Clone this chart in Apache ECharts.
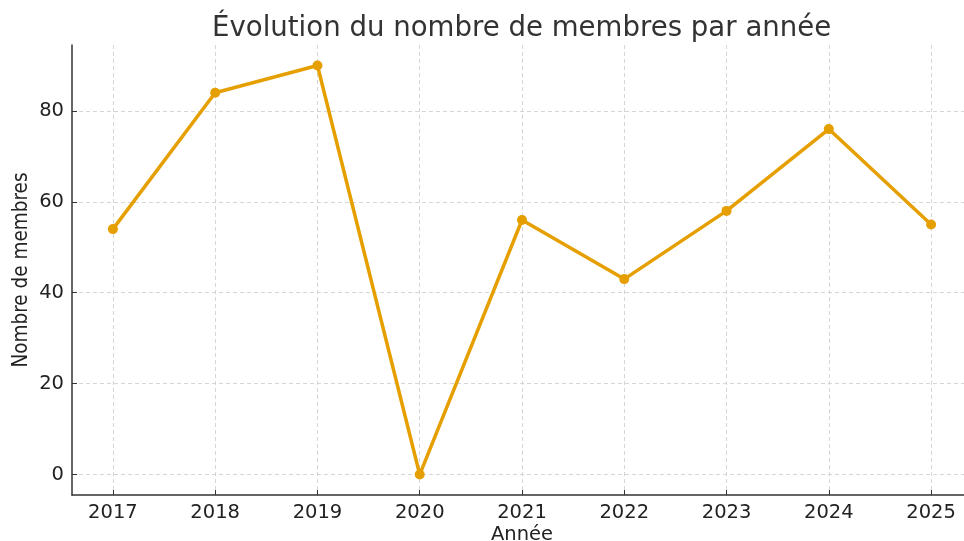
<!DOCTYPE html>
<html>
<head>
<meta charset="utf-8">
<script src="https://cdn.jsdelivr.net/npm/echarts@6/dist/echarts.min.js"></script>
<style>
html,body{margin:0;padding:0;background:#fff;overflow:hidden;}
#chart{width:964px;height:541px;}
</style>
</head>
<body>
<div id="chart"></div>
<script>
const years = [2017, 2018, 2019, 2020, 2021, 2022, 2023, 2024, 2025];
const members = [54, 84, 90, 0, 56, 43, 58, 76, 55];
const titleText = "Évolution du nombre de membres par année";
const xName = "Année";
const yName = "Nombre de membres";

const chart = echarts.init(document.getElementById('chart'), null, {renderer: 'canvas'});
const data = years.map((y, i) => [y, members[i]]);

chart.setOption({
  animation: false,
  backgroundColor: '#ffffff',
  title: {
    text: titleText,
    left: 207,
    top: 10,
    textStyle: {fontFamily: 'DejaVu Sans', fontSize: 27.6, fontWeight: 'normal', color: '#333333'}
  },
  grid: {left: 72, right: -8, top: 45, bottom: 46, containLabel: false, outerBoundsMode: 'none'},
  xAxis: {
    type: 'value',
    min: 2016.6,
    max: 2025.4,
    minInterval: 1,
    maxInterval: 1,
    name: xName,
    nameLocation: 'middle',
    nameGap: 30,
    nameMoveOverlap: false,
    nameTextStyle: {fontFamily: 'DejaVu Sans', fontSize: 19.5, color: '#222222'},
    axisLine: {show: true, onZero: false, lineStyle: {color: '#333333', width: 1.5}},
    axisTick: {show: true, inside: true, length: 5, lineStyle: {color: '#333333', width: 1}},
    axisLabel: {
      fontFamily: 'DejaVu Sans', fontSize: 19.5, color: '#222222', margin: 8,
      showMinLabel: false, showMaxLabel: false,
      formatter: v => String(v)
    },
    splitLine: {show: true, showMinLine: false, showMaxLine: false, lineStyle: {color: '#cccccc', type: [4, 3], width: 0.8}}
  },
  yAxis: {
    type: 'value',
    min: -4.5,
    max: 94.5,
    minInterval: 20,
    maxInterval: 20,
    name: yName,
    nameLocation: 'middle',
    nameRotate: 90,
    nameGap: 40,
    nameMoveOverlap: false,
    nameTextStyle: {fontFamily: 'DejaVu Sans Condensed', fontSize: 20.5, color: '#222222'},
    axisLine: {show: true, onZero: false, lineStyle: {color: '#333333', width: 1.5}},
    axisTick: {show: true, inside: true, length: 5, lineStyle: {color: '#333333', width: 1}},
    axisLabel: {
      fontFamily: 'DejaVu Sans', fontSize: 19.5, color: '#222222', margin: 8,
      showMinLabel: false, showMaxLabel: false
    },
    splitLine: {show: true, showMinLine: false, showMaxLine: false, lineStyle: {color: '#cccccc', type: [4, 3], width: 0.8}}
  },
  series: [{
    type: 'line',
    data: data,
    symbol: 'circle',
    symbolSize: 10,
    itemStyle: {color: '#E69F00'},
    lineStyle: {color: '#E69F00', width: 3.5},
    z: 5
  }]
});
</script>
</body>
</html>
